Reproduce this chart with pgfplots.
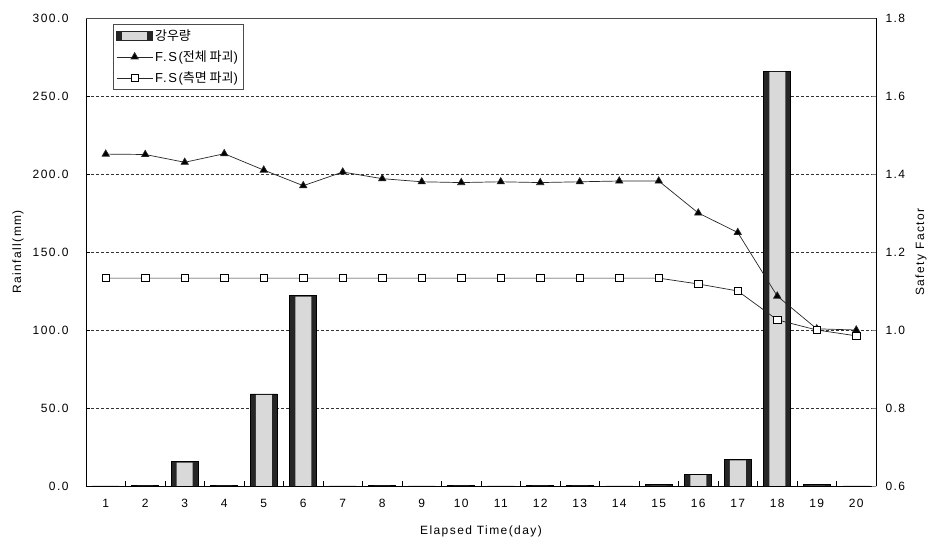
\documentclass[border=0pt]{standalone}
\usepackage{pgfplots}
\pgfplotsset{compat=1.18}
\usepackage{pgfplotstable}
\usepackage{fontspec}
\setmainfont{Liberation Sans}[LetterSpace=12]
\newfontfamily\kr{Noto Sans CJK KR}

\pgfplotstableread{
day rain fsa fsb
1 0 1.451 1.133
2 0.5 1.450 1.133
3 15.5 1.430 1.133
4 0.5 1.452 1.133
5 59 1.410 1.133
6 122 1.370 1.133
7 0 1.405 1.133
8 0.5 1.388 1.133
9 0 1.380 1.133
10 0.5 1.378 1.133
11 0 1.380 1.133
12 0.5 1.378 1.133
13 0.5 1.380 1.133
14 0 1.382 1.133
15 1 1.382 1.133
16 7.5 1.300 1.118
17 17 1.250 1.100
18 266 1.087 1.026
19 1 1.003 1.000
20 0 1.000 0.985
}\datatable

\begin{document}
\begin{tikzpicture}[font=\fontsize{12}{14}\selectfont]
\begin{axis}[
  scale only axis, width=790pt, height=468pt,
  xmin=0.5, xmax=20.5, ymin=0, ymax=300,
  axis y line*=left, axis x line*=bottom,
  xtick={1,...,20}, major x tick style={draw=none},
  minor xtick={1.5,2.5,...,19.5}, minor tick length=5pt,
  xtick align=inside,
  ytick={0,50,...,300},
  yticklabel style={xshift=-14pt, /pgf/number format/.cd, fixed, fixed zerofill, precision=1, assume math mode=true},
  xticklabel style={yshift=-10pt, /pgf/number format/assume math mode=true},
  ymajorgrids, grid style={densely dashed, black!80, line width=0.6pt},
  ylabel={Rainfall(mm)}, xlabel={Elapsed Time(day)},
  ylabel style={at={(axis description cs:-0.086,0.5)}, anchor=center},
  xlabel style={at={(axis description cs:0.5,-0.096)}, anchor=center},
  axis line style={line width=0.8pt},
  tick style={black},
  clip=false,
]
\addplot[ybar, bar shift=0pt, bar width=27pt, draw=black, line width=0.8pt, fill=black!85]
  table[x=day, y=rain] {\datatable};
\addplot[ybar, bar shift=0pt, bar width=16pt, draw=none, fill=gray!30]
  table[x=day, y expr={\thisrow{rain}>3 ? \thisrow{rain}-0.6 : 0}] {\datatable};
\end{axis}
\begin{axis}[
  scale only axis, width=790pt, height=468pt,
  xmin=0.5, xmax=20.5, ymin=0.6, ymax=1.8,
  axis y line*=right, axis x line=none,
  ytick={0.6,0.8,...,1.8},
  yticklabel style={xshift=6pt, /pgf/number format/.cd, fixed, fixed zerofill, precision=1, assume math mode=true},
  ylabel={Safety Factor},
  ylabel style={at={(axis description cs:1.057,0.5)}, anchor=center},
  axis line style={line width=0.8pt},
  legend style={at={(0.034,0.987)}, anchor=north west, draw=black!70, line width=0.8pt,
    font=\fontsize{13}{15}\selectfont, row sep=5pt, inner sep=3pt,
    legend cell align=left},
  legend image code/.code={\draw[mark repeat=2,mark phase=2,#1] plot coordinates {(0pt,0pt) (18pt,0pt) (36pt,0pt)};},
]
\addlegendimage{legend image code/.code={
  \fill[black!85] (0pt,-4.5pt) rectangle (36pt,4.5pt);
  \fill[gray!30] (6pt,-3.5pt) rectangle (30pt,3.5pt);}}
\addlegendentry{{\kr 강우량}}
\addplot[black!85, line width=0.7pt, mark=triangle*, mark size=4.2pt, mark options={fill=black, solid}]
  table[x=day, y=fsa] {\datatable};
\addlegendentry{F.S({\kr 전체 파괴})}
\addplot[black!85, line width=0.7pt, mark=square*, mark size=3.6pt, mark options={fill=white, draw=black, solid}]
  table[x=day, y=fsb] {\datatable};
\addlegendentry{F.S({\kr 측면 파괴})}
\end{axis}
\draw[line width=0.6pt, black!70] (current axis.north west) -- (current axis.north east);
\pgfresetboundingbox
\path[use as bounding box] ([xshift=-86pt,yshift=-56pt]current axis.south west) rectangle ([xshift=59pt,yshift=18pt]current axis.north east);
\end{tikzpicture}
\end{document}
